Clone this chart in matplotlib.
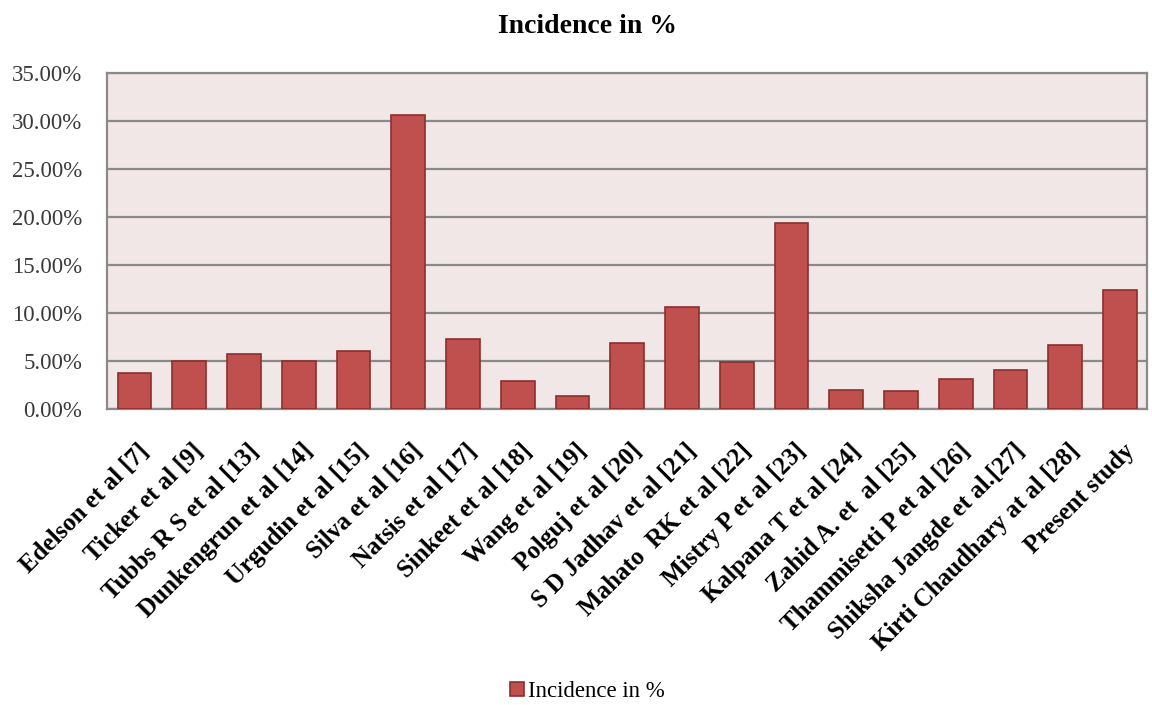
import numpy as np
import matplotlib.pyplot as plt
import matplotlib.transforms as mtransforms
from matplotlib.ticker import FuncFormatter

# studies and incidence values (%)
studies = [
    "Edelson et al [7]", "Ticker et al [9]", "Tubbs R S et al [13]",
    "Dunkengrun et al [14]", "Urgudin et al [15]", "Silva et al [16]",
    "Natsis et al [17]", "Sinkeet et al [18]", "Wang et al [19]",
    "Polguj et al [20]", "S D Jadhav et al [21]", "Mahato  RK et al [22]",
    "Mistry P et al [23]", "Kalpana T et al [24]", "Zahid A. et  al [25]",
    "Thammisetti P et al [26]", "Shiksha Jangde et al.[27]",
    "Kirti Chaudhary at al [28]", "Present study",
]
incidence = [3.7, 5.0, 5.7, 5.0, 6.0, 30.6, 7.3, 2.9, 1.3, 6.9,
             10.6, 4.9, 19.4, 2.0, 1.9, 3.1, 4.1, 6.7, 12.4]
yticks = [0, 5, 10, 15, 20, 25, 30, 35]

plt.rcParams['font.family'] = ['Liberation Serif', 'DejaVu Serif']

fig = plt.figure(figsize=(11.52, 7.05), dpi=100)
ax = fig.add_axes([0.093, 0.42, 0.903, 0.4765])
ax.set_facecolor("#F2E7E7")

x = np.arange(len(studies))
ax.bar(x, incidence, width=0.62, color="#C0504D", edgecolor="#8C2F2C",
       linewidth=1.2, label="Incidence in %", zorder=3)

ax.set_xlim(-0.5, len(studies) - 0.5)
ax.set_ylim(0, 35)
ax.set_yticks(yticks)
ax.yaxis.set_major_formatter(FuncFormatter(lambda v, p: f"{v:.2f}%"))
ax.grid(axis="y", color="#8A8A8A", linewidth=1.6, zorder=1)
for s in ax.spines.values():
    s.set_color("#8A8A8A")
    s.set_linewidth(1.6)

ax.set_xticks(x)
ax.set_xticklabels(studies, rotation=45, ha="right", rotation_mode="anchor",
                   fontsize=18, fontweight="bold")
ax.tick_params(axis="x", length=0, pad=22)
ax.tick_params(axis="y", length=0, pad=18, labelsize=16.5, labelcolor="#3A3A3A")

# nudge the rotated labels a little to the right
shift = mtransforms.ScaledTranslation(0.03, 0, fig.dpi_scale_trans)
for t in ax.get_xticklabels():
    t.set_transform(t.get_transform() + shift)

fig.text(0.51, 1 - 14 / 705, "Incidence in %", ha="center", va="top",
         fontsize=20, fontweight="bold")

fig.legend(loc="lower center", bbox_to_anchor=(0.51, -0.025), frameon=False,
           fontsize=16.5, handlelength=0.6, handleheight=0.6, handletextpad=0.2)

fig.savefig("out.png", dpi=100)
